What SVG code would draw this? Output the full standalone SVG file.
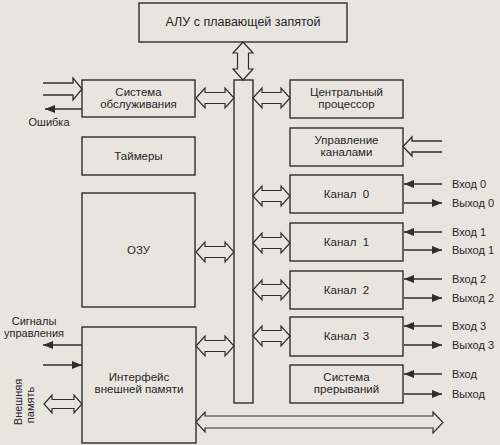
<svg xmlns="http://www.w3.org/2000/svg" width="500" height="445" viewBox="0 0 500 445">
<style>
.bg{fill:#e7e5de}
.box{fill:none;stroke:#2e2e2e;stroke-width:1.4}
.hol{fill:#e7e5de;stroke:#2e2e2e;stroke-width:1.2;stroke-linejoin:miter}
.ln{fill:none;stroke:#2e2e2e;stroke-width:1.3}
.ar{fill:none;stroke:#2e2e2e;stroke-width:1.3;marker-end:url(#ah)}
text{font-family:"Liberation Sans",Arial,sans-serif;font-size:11px;fill:#262626}
.b{font-size:11.5px}
.t{font-size:12.5px}
.c{text-anchor:middle}
</style>
<defs>
<marker id="ah" viewBox="0 0 10 8" refX="10" refY="4" markerWidth="10" markerHeight="8" markerUnits="userSpaceOnUse" orient="auto">
<path d="M0,0 L10,4 L0,8 Z" fill="#2e2e2e"/>
</marker>
</defs>
<rect class="bg" x="0" y="0" width="500" height="445"/>

<g id="alu"><rect class="box" x="139" y="3" width="208" height="39"/><text class="c t" x="243" y="26">АЛУ с плавающей запятой</text></g>
<g id="bus"><rect class="box" x="234" y="80" width="19" height="323"/></g>

<g id="service"><rect class="box" x="82" y="80" width="113" height="37"/><text class="c b" x="138.5" y="96">Система</text><text class="c b" x="138.5" y="108">обслуживания</text></g>
<g id="timers"><rect class="box" x="82" y="137" width="113" height="38"/><text class="c b" x="138.5" y="160">Таймеры</text></g>
<g id="ram"><rect class="box" x="82" y="193" width="113" height="114"/><text class="c b" x="138.5" y="254">ОЗУ</text></g>
<g id="extif"><rect class="box" x="82" y="327" width="114" height="116"/><text class="c b" x="139" y="381">Интерфейс</text><text class="c b" x="139" y="393">внешней памяти</text></g>

<g id="cpu"><rect class="box" x="290" y="80" width="113" height="38"/><text class="c b" x="346.5" y="96">Центральный</text><text class="c b" x="346.5" y="108">процессор</text></g>
<g id="chctl"><rect class="box" x="290" y="128" width="113" height="38"/><text class="c b" x="346.5" y="144">Управление</text><text class="c b" x="346.5" y="156">каналами</text></g>
<g id="ch0"><rect class="box" x="290" y="175" width="113" height="38"/><text class="c b" x="346.5" y="198" xml:space="preserve">Канал  0</text></g>
<g id="ch1"><rect class="box" x="290" y="223" width="113" height="38"/><text class="c b" x="346.5" y="246" xml:space="preserve">Канал  1</text></g>
<g id="ch2"><rect class="box" x="290" y="271" width="113" height="38"/><text class="c b" x="346.5" y="294" xml:space="preserve">Канал  2</text></g>
<g id="ch3"><rect class="box" x="290" y="317" width="113" height="39"/><text class="c b" x="346.5" y="340" xml:space="preserve">Канал  3</text></g>
<g id="irq"><rect class="box" x="290" y="365" width="113" height="38"/><text class="c b" x="346.5" y="381">Система</text><text class="c b" x="346.5" y="393">прерываний</text></g>

<g id="connectors">
<polygon class="hol" points="243,42 253,53 248.5,53 248.5,69 253,69 243,80 233,69 237.5,69 237.5,53 233,53"/>
<polygon class="hol" points="196,98 205,88 205,92.5 225,92.5 225,88 234,98 225,108 225,103.5 205,103.5 205,108"/>
<polygon class="hol" points="196,252 205,242 205,246.5 225,246.5 225,242 234,252 225,262 225,257.5 205,257.5 205,262"/>
<polygon class="hol" points="196,346 205,336 205,340.5 225,340.5 225,336 234,346 225,356 225,351.5 205,351.5 205,356"/>
<polygon class="hol" points="253,98 262,88 262,92.5 281,92.5 281,88 290,98 281,108 281,103.5 262,103.5 262,108"/>
<polygon class="hol" points="253,196 262,186 262,190.5 281,190.5 281,186 290,196 281,206 281,201.5 262,201.5 262,206"/>
<polygon class="hol" points="253,243 262,233 262,237.5 281,237.5 281,233 290,243 281,253 281,248.5 262,248.5 262,253"/>
<polygon class="hol" points="253,290 262,280 262,284.5 281,284.5 281,280 290,290 281,300 281,295.5 262,295.5 262,300"/>
<polygon class="hol" points="253,336 262,326 262,330.5 281,330.5 281,326 290,336 281,346 281,341.5 262,341.5 262,346"/>
<polygon class="hol" points="196,422 205,412 205,416 433,416 433,412 443,422.5 433,433 433,428 205,428 205,432"/>
<path class="ln" d="M43,83 H73 V78 L82,89 L73,100 V95 H43"/>
<line class="ar" x1="82" y1="109" x2="45" y2="109"/>
<text class="c" x="49" y="126">Ошибка</text>
<path class="ln" d="M442,141 H412 V137 L403,146.5 L412,156 V152 H442"/>
<line class="ar" x1="442" y1="184" x2="404" y2="184"/>
<line class="ar" x1="404" y1="203" x2="442" y2="203"/>
<line class="ar" x1="442" y1="232" x2="404" y2="232"/>
<line class="ar" x1="404" y1="250" x2="442" y2="250"/>
<line class="ar" x1="442" y1="279" x2="404" y2="279"/>
<line class="ar" x1="404" y1="298" x2="442" y2="298"/>
<line class="ar" x1="442" y1="326" x2="404" y2="326"/>
<line class="ar" x1="404" y1="345" x2="442" y2="345"/>
<line class="ar" x1="442" y1="374" x2="404" y2="374"/>
<line class="ar" x1="404" y1="394" x2="442" y2="394"/>
<text x="452" y="188">Вход 0</text>
<text x="452" y="207">Выход 0</text>
<text x="452" y="236">Вход 1</text>
<text x="452" y="254">Выход 1</text>
<text x="452" y="283">Вход 2</text>
<text x="452" y="302">Выход 2</text>
<text x="452" y="330">Вход 3</text>
<text x="452" y="349">Выход 3</text>
<text x="452" y="378">Вход</text>
<text x="452" y="398">Выход</text>
<text class="c" x="34" y="325">Сигналы</text>
<text class="c" x="34" y="337">управления</text>
<line class="ar" x1="82" y1="345" x2="43" y2="345"/>
<line class="ar" x1="43" y1="365" x2="82" y2="365"/>
<polygon class="hol" points="44,404 52,395 52,399.5 74,399.5 74,395 82,404 74,413 74,408.5 52,408.5 52,413"/>
<text class="c" transform="translate(22,402) rotate(-90)">Внешняя</text>
<text class="c" transform="translate(34,405) rotate(-90)">память</text>
</g>
</svg>
